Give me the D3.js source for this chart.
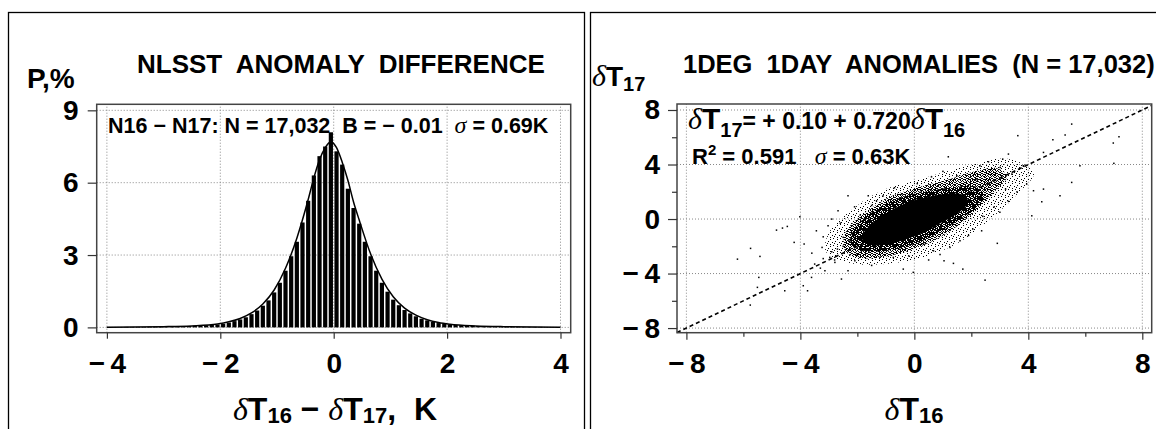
<!DOCTYPE html>
<html>
<head>
<meta charset="utf-8">
<script src="https://cdn.jsdelivr.net/npm/d3@7"></script>
<style>
    body { margin: 0; background: #fff; }
    text { font-family: "Liberation Sans", Arial, sans-serif; font-weight: bold; fill: #000; white-space: pre; }
    .greek { font-family: "Liberation Serif", "DejaVu Serif", serif; font-style: italic; font-weight: normal; }
    .grid line { stroke: #888; stroke-width: 1; stroke-dasharray: 1,2; }
</style>
</head>
<body>
<svg id="chart" width="1156" height="429"></svg>
<script>
// ---- left panel: histogram of N16-N17 differences (0.1 K bins from -4 to 4)
const binStart = -4, binWidth = 0.1;
const binPct = [
    0.01, 0.01, 0.01, 0.02, 0.02, 0.02, 0.02, 0.03, 0.03, 0.03,
    0.04, 0.04, 0.05, 0.05, 0.06, 0.07, 0.08, 0.09, 0.10, 0.12,
    0.15, 0.20, 0.26, 0.33, 0.42, 0.55, 0.70, 0.90, 1.12, 1.45,
    1.85, 2.35, 2.95, 3.55, 4.35, 5.25, 6.30, 7.10, 7.50, 8.09,
    7.30, 6.75, 5.75, 4.95, 4.30, 3.55, 2.95, 2.35, 1.85, 1.48,
    1.15, 0.92, 0.72, 0.58, 0.46, 0.36, 0.29, 0.23, 0.18, 0.14,
    0.12, 0.10, 0.09, 0.08, 0.07, 0.06, 0.05, 0.05, 0.04, 0.04,
    0.03, 0.03, 0.03, 0.02, 0.02, 0.02, 0.02, 0.01, 0.01, 0.01
];
// fitted curve over the histogram
const fitX   = [-4, -3, -2.5, -2.05, -1.85, -1.65, -1.45, -1.25, -1.05, -0.85, -0.65, -0.45, -0.35, -0.25, -0.15, -0.05,
                0.05, 0.15, 0.25, 0.35, 0.45, 0.65, 0.85, 1.05, 1.25, 1.45, 1.65, 1.85, 2.05, 2.5, 3, 4];
const fitPct = [0.01, 0.03, 0.06, 0.14, 0.23, 0.37, 0.60, 0.97, 1.55, 2.45, 3.70, 5.30, 6.20, 6.95, 7.45, 7.70,
                7.45, 6.85, 6.10, 5.20, 4.45, 3.05, 2.00, 1.27, 0.80, 0.51, 0.32, 0.20, 0.13, 0.06, 0.03, 0.01];
const histXTicks = [-4, -2, 0, 2, 4];
const histYTicks = [0, 3, 6, 9];

// ---- right panel: scatter of dT17 vs dT16
// dense core and surrounding speckle of the cloud, outlined in data units
const coreOutline = [[-1.85,-1.35],[-1.6,-0.55],[-0.97,0.45],[-0.27,1.2],[0.44,1.6],[1.14,1.85],[1.72,1.76],
                     [1.89,1.27],[1.6,0.54],[0.9,-0.32],[0.2,-1.1],[-0.62,-1.7],[-1.32,-1.95],[-1.72,-1.75]];
const ringOutline = [[-2.25,-1.6],[-2.05,-0.55],[-1.3,0.75],[-0.45,1.6],[0.5,2.05],[1.4,2.35],[2.2,2.35],
                     [2.45,1.6],[2.0,0.55],[1.15,-0.6],[0.3,-1.6],[-0.6,-2.2],[-1.5,-2.4],[-2.05,-2.15]];
const haloOutline = [[-2.49,-2.03],[-2.37,-0.81],[-1.67,0.54],[-0.85,1.64],[0.2,2.37],[1.14,2.86],[2.07,3.47],
                     [2.89,3.72],[3.24,3.1],[2.77,1.89],[2.07,0.42],[1.14,-1.05],[0.2,-2.03],[-0.74,-2.64],
                     [-1.67,-2.89],[-2.26,-2.64]];
const outerOutline = [[-3.0,-1.0],[-2.0,1.0],[-1.0,2.2],[0.5,3.1],[2.0,4.0],[3.3,4.4],[4.2,3.4],[3.6,1.8],
                      [2.5,-0.3],[1.5,-1.8],[0.3,-2.8],[-1.0,-3.3],[-2.3,-3.2],[-3.1,-2.4]];
const loosePoints = [
    [-6.21,-2.94],[-5.75,-2.15],[-5.42,-2.74],[-5.46,-4.28],[-5.51,-5.01],[-5.76,-6.31],[-4.84,-0.81],
    [-4.63,-0.66],[-4.46,-0.54],[-4.22,-1.71],[-4.55,-5.26],[-4.02,0.17],[-3.87,-1.83],[-3.9,-4.89],
    [-3.75,-5.26],[-3.61,-4.28],[-3.44,-0.86],[-3.24,-2.08],[-3.03,-0.49],[-2.97,-2.81],[-2.68,0.61],
    [-2.33,1.71],[-2.5,-1.34],[-2.56,-4.4],[-2.33,-3.79],[-2.79,-3.18],[-3.14,-3.79],[-1.62,1.71],
    [-1.33,1.34],[-1.86,-2.33],[-2.09,-3.06],[5.52,6.97],[3.63,6.12],[4.86,5.82],[5.29,6.17],[1.19,4.57],
    [4.53,4.89],[5.81,3.91],[5.52,2.69],[5.11,1.71],[4.53,2.2],[4.47,1.27],[4.12,0.24],[2.91,-1.78],
    [2.48,-4.48],[1.7,-3.67],[1.37,-3.25],[1.04,-3.06],[2.05,-0.73],[1.6,-1.59],[1.25,-2.08],[2.36,-0.86],
    [-0.39,-3.67],[-0.04,-3.91],[-0.74,-2.81],[0.67,-2.33],[0.32,-1.83],[3.3,4.77],[3.01,3.79],[3.42,3.3],
    [3.82,3.91],[3.94,2.57],[4.18,2.08],[1.49,3.18],[0.84,2.44],[0.2,1.96],[-0.44,1.83],[6.98,5.58],
    [7.18,6.04],[7.0,4.09],
    [-3.5,-3.3],[-3.2,-2.9],[-2.9,-2.4],[-2.7,-2.2],[-2.5,-2.0],[-2.3,-1.6],[-2.1,-1.2],[-2.2,-0.5],
    [-2.6,-0.3],[-2.9,0.0],[-3.2,-1.3],[-3.6,-2.5],[-3.3,-3.6],[-2.8,-3.0],[-2.0,-2.6],[-1.9,0.3],
    [-2.1,0.9],[-1.5,1.0],[-1.1,1.7],[-0.7,2.3],[0.1,2.6],[0.6,3.1],[1.0,3.5],[2.3,3.9],[2.6,4.2],
    [3.1,4.4],[2.2,2.9],[2.7,2.7],[3.2,2.2],[3.6,2.0],[3.3,1.3],[2.8,0.9],[2.4,0.2],[3.0,0.5],
    [1.9,-1.2],[0.9,-2.6],[-0.2,-2.7],[-1.2,-2.8],[-1.5,-3.4],[0.5,-3.0]
];
const oneToOne = [[-8.33,-8.33],[8.33,8.33]];
const scatTicks = [-8, -4, 0, 4, 8];
const scatMinor = [-6, -2, 2, 6];

const svg = d3.select('#chart');

// little helper for text with sub/superscripts and greek letters
function richText(g, x, y, parts, anchor)
{
    let t = g.append('text').attr('x', x).attr('y', y)
        .attr('text-anchor', anchor || 'start');
    let shift = 0;
    parts.forEach(function(p){
        let s = t.append('tspan').text(p.t).style('font-size', p.size + 'px');
        if(p.greek)
            s.attr('class', 'greek');
        let want = p.dy || 0;
        if(want != shift)
            s.attr('dy', want - shift);
        shift = want;
    });
    return t;
}

function fmtTick(d)
{
    return d < 0 ? '\u2212\u2009' + Math.abs(d) : String(d);
}

// speckle patterns for the scatter cloud
const defs = svg.append('defs');
function speckle(id, size, dots)
{
    let p = defs.append('pattern').attr('id', id)
        .attr('width', size).attr('height', size).attr('patternUnits', 'userSpaceOnUse');
    dots.forEach(function(d){
        p.append('rect').attr('x', d[0]).attr('y', d[1]).attr('width', 1).attr('height', 1).attr('fill', '#000');
    });
}
speckle('speck0', 4, [[0,0],[1,0],[3,0],[1,1],[2,1],[0,2],[2,2],[3,2],[1,3]]);
speckle('speck1', 5, [[0,0],[2,0],[1,1],[3,1],[4,2],[0,2],[2,3],[1,3],[4,4],[3,4],[0,4]]);
speckle('speck2', 7, [[0,0],[4,1],[2,3],[6,4],[1,5],[4,6]]);

// panel frames
svg.append('rect').attr('x', 8.5).attr('y', 12.5).attr('width', 576).attr('height', 440)
    .attr('fill', 'none').attr('stroke', '#000').attr('stroke-width', 1.3);
svg.append('rect').attr('x', 590.5).attr('y', 12.5).attr('width', 600).attr('height', 440)
    .attr('fill', 'none').attr('stroke', '#000').attr('stroke-width', 1.3);

// =============== left panel
const xL = d3.scaleLinear().domain([-4.18, 4.18]).range([96.7, 570.7]);
const yL = d3.scaleLinear().domain([-0.22, 9.25]).range([332.7, 104.3]);

const gL = svg.append('g');
const gridL = gL.append('g').attr('class', 'grid');
gridL.selectAll('.vx').data(histXTicks).enter().append('line')
    .attr('x1', d => xL(d)).attr('x2', d => xL(d))
    .attr('y1', yL.range()[0]).attr('y2', yL.range()[1]);
gridL.selectAll('.hy').data(histYTicks).enter().append('line')
    .attr('y1', d => yL(d)).attr('y2', d => yL(d))
    .attr('x1', xL.range()[0]).attr('x2', xL.range()[1]);

gL.selectAll('rect.bar').data(binPct).enter().append('rect')
    .attr('class', 'bar')
    .attr('x', (d, i) => xL(binStart + binWidth * i + binWidth * 0.13))
    .attr('width', xL(binWidth * 0.74) - xL(0))
    .attr('y', d => yL(d))
    .attr('height', d => yL(0) - yL(d))
    .attr('fill', '#000');

const fitLine = d3.line()
    .x(d => xL(d[0])).y(d => yL(d[1]))
    .curve(d3.curveMonotoneX);
gL.append('path').datum(d3.zip(fitX, fitPct))
    .attr('d', fitLine).attr('fill', 'none').attr('stroke', '#000').attr('stroke-width', 1.5);

gL.append('rect').attr('x', 96.7).attr('y', 104.3).attr('width', 474).attr('height', 228.4)
    .attr('fill', 'none').attr('stroke', '#444').attr('stroke-width', 1.5);

const axLx = gL.append('g').attr('transform', 'translate(0,332.7)')
    .call(d3.axisBottom(xL).tickValues(histXTicks).tickSize(6).tickPadding(14).tickFormat(fmtTick));
const axLy = gL.append('g').attr('transform', 'translate(96.7,0)')
    .call(d3.axisLeft(yL).tickValues(histYTicks).tickSize(9).tickPadding(9));
[axLx, axLy].forEach(function(ax){
    ax.select('.domain').remove();
    ax.selectAll('line').attr('stroke', '#333').attr('stroke-width', 1.2);
    ax.selectAll('text').style('font-size', '28px').attr('fill', '#000')
        .style('font-family', '"Liberation Sans", Arial, sans-serif').style('font-weight', 'bold');
});

gL.append('text').attr('x', 137).attr('y', 73).style('font-size', '26px')
    .text('NLSST  ANOMALY  DIFFERENCE');
gL.append('text').attr('x', 27).attr('y', 88).style('font-size', '28px').text('P,%');
richText(gL, 108, 133, [
    {t: 'N16 \u2212 N17: N = 17,032  B = \u2212 0.01  ', size: 21.5},
    {t: '\u03c3', size: 24, greek: true},
    {t: ' = 0.69K', size: 21.5}
]);
richText(gL, 335, 420, [
    {t: '\u03b4', size: 32, greek: true},
    {t: 'T', size: 32},
    {t: '16', size: 22, dy: 3},
    {t: ' \u2212 ', size: 32},
    {t: '\u03b4', size: 32, greek: true},
    {t: 'T', size: 32},
    {t: '17', size: 22, dy: 3},
    {t: ',  K', size: 32}
], 'middle');

// =============== right panel
const xR = d3.scaleLinear().domain([-8.33, 8.33]).range([677, 1151.7]);
const yR = d3.scaleLinear().domain([-8.34, 8.44]).range([332.7, 104]);

const gR = svg.append('g');
const gridR = gR.append('g').attr('class', 'grid');
gridR.selectAll('.vx').data(scatTicks).enter().append('line')
    .attr('x1', d => xR(d)).attr('x2', d => xR(d))
    .attr('y1', yR.range()[0]).attr('y2', yR.range()[1]);
gridR.selectAll('.hy').data(scatTicks).enter().append('line')
    .attr('y1', d => yR(d)).attr('y2', d => yR(d))
    .attr('x1', xR.range()[0]).attr('x2', xR.range()[1]);

const cloud = d3.line().x(d => xR(d[0])).y(d => yR(d[1])).curve(d3.curveCatmullRomClosed.alpha(0.5));
gR.append('path').datum(outerOutline).attr('d', cloud).attr('fill', 'url(#speck2)');
gR.append('path').datum(haloOutline).attr('d', cloud).attr('fill', 'url(#speck1)');
gR.append('path').datum(ringOutline).attr('d', cloud).attr('fill', 'url(#speck0)');
gR.append('path').datum(coreOutline).attr('d', cloud).attr('fill', '#000');

gR.selectAll('rect.pt').data(loosePoints).enter().append('rect')
    .attr('class', 'pt')
    .attr('x', d => xR(d[0]) - 0.7).attr('y', d => yR(d[1]) - 0.7)
    .attr('width', 1.5).attr('height', 1.5).attr('fill', '#000');

gR.append('path').datum(oneToOne)
    .attr('d', d3.line().x(d => xR(d[0])).y(d => yR(d[1])))
    .attr('fill', 'none').attr('stroke', '#000').attr('stroke-width', 1.6)
    .attr('stroke-dasharray', '4,3');

gR.append('rect').attr('x', 677).attr('y', 104).attr('width', 474.7).attr('height', 228.7)
    .attr('fill', 'none').attr('stroke', '#444').attr('stroke-width', 1.5);

const axRx = gR.append('g').attr('transform', 'translate(0,332.7)')
    .call(d3.axisBottom(xR).tickValues(scatTicks).tickSize(7).tickPadding(13).tickFormat(fmtTick));
const axRy = gR.append('g').attr('transform', 'translate(677,0)')
    .call(d3.axisLeft(yR).tickValues(scatTicks).tickSize(9).tickPadding(8).tickFormat(fmtTick));
const axRxm = gR.append('g').attr('transform', 'translate(0,332.7)')
    .call(d3.axisBottom(xR).tickValues(scatMinor).tickSize(4).tickFormat(''));
const axRym = gR.append('g').attr('transform', 'translate(677,0)')
    .call(d3.axisLeft(yR).tickValues(scatMinor).tickSize(5).tickFormat(''));
[axRx, axRy, axRxm, axRym].forEach(function(ax){
    ax.select('.domain').remove();
    ax.selectAll('line').attr('stroke', '#333').attr('stroke-width', 1.2);
    ax.selectAll('text').style('font-size', '28px').attr('fill', '#000')
        .style('font-family', '"Liberation Sans", Arial, sans-serif').style('font-weight', 'bold');
});

gR.append('text').attr('x', 683).attr('y', 73).style('font-size', '25.5px')
    .text('1DEG  1DAY  ANOMALIES  (N = 17,032)');
richText(gR, 592, 86, [
    {t: '\u03b4', size: 30, greek: true},
    {t: 'T', size: 28},
    {t: '17', size: 20, dy: 5}
]);
richText(gR, 688, 129, [
    {t: '\u03b4', size: 30, greek: true},
    {t: 'T', size: 30},
    {t: '17', size: 20, dy: 8},
    {t: '= + 0.10 + 0.720', size: 23, dy: 0},
    {t: '\u03b4', size: 30, greek: true},
    {t: 'T', size: 30},
    {t: '16', size: 20, dy: 8}
]);
richText(gR, 692, 164, [
    {t: 'R', size: 22},
    {t: '2', size: 15, dy: -9},
    {t: ' = 0.591   ', size: 22, dy: 0},
    {t: '\u03c3', size: 24, greek: true},
    {t: ' = 0.63K', size: 22}
]);
richText(gR, 914, 420, [
    {t: '\u03b4', size: 32, greek: true},
    {t: 'T', size: 32},
    {t: '16', size: 22, dy: 3}
], 'middle');
</script>
</body>
</html>
